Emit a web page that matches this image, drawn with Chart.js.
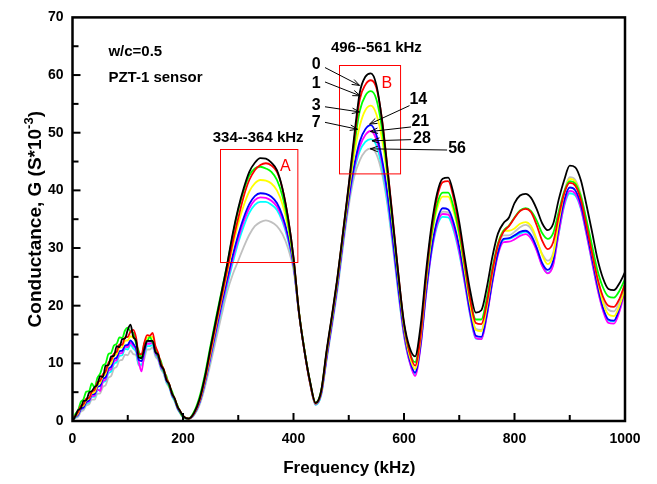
<!DOCTYPE html>
<html><head><meta charset="utf-8">
<script src="https://cdn.jsdelivr.net/npm/chart.js@4.4.1/dist/chart.umd.min.js"></script>
<style>html,body{margin:0;padding:0;background:#fff}#wrap{width:657px;height:484px;position:relative}</style>
</head><body><div id="wrap"><canvas id="c" width="657" height="484"></canvas></div>
<script>
// Frequency (kHz)
const freq = [0,5,10,15,20,25,30,35,40,45,50,55,60,65,70,75,80,85,90,95,100,105,110,115,120,125,130,135,140,145,150,155,160,165,170,175,180,185,190,195,200,
210,220,230,240,250,260,270,280,290,300,310,320,330,340,350,360,370,380,390,400,410,420,430,440,450,
460,470,480,490,500,510,520,530,540,550,560,570,580,590,600,610,620,630,
640,650,660,670,680,690,700,710,720,730,740,750,760,770,780,790,800,810,820,830,840,850,860,870,880,890,900,910,920,930,940,950,960,970,980,990,1000];

// Conductance G (S*10^-3) per series
const g0 = [0,0.8,1.9,2.2,3.5,3.6,4.9,5.2,5.9,6.3,7.8,7.6,9.6,9.7,11.2,11.3,13.0,12.8,14.2,14.3,15.8,16.7,14.6,13.9,11.0,10.9,12.5,13.9,13.9,13.9,12.0,11.5,9.7,8.9,7.1,6.4,4.8,3.9,2.5,1.7,0.9,
0.4,1.4,3.8,7.8,12.8,17.6,22.4,27.2,32.5,36.9,40.4,43.2,44.8,45.6,45.5,44.8,43.5,40.3,35.3,28.4,18.8,12.1,6.8,3.1,5.2,
12.3,18.6,25.3,33,41,49.5,57,59.7,60.3,58.3,52.3,43.8,34.5,25.3,17.1,12.8,11.2,16.5,
26,34,39.5,42,42.2,39.3,34.5,28.3,22.5,18.8,19.2,23.2,28.5,32.5,34.3,35.3,37.8,39.1,39.4,38.7,36.8,34.3,33.1,34.2,38.4,41.8,44.3,44,41.8,37.6,33,28.2,24.8,22.9,22.7,23.9,25.8];
const g1 = [0,0.9,1.5,2.6,2.9,3.9,4.0,5.1,5.4,6.7,7.0,8.1,8.6,10.1,10.6,11.7,12.0,13.3,13.2,14.5,14.6,15.5,15.8,14.5,11.6,11.6,13.6,14.9,14.8,15.3,13.0,11.8,10.0,9.0,7.4,6.4,4.8,3.9,2.5,1.7,0.9,
0.4,1.3,3.6,7.4,12.2,17,21.6,26.2,31,35.2,39,41.8,43.5,44.4,44.7,44.3,43.2,40.3,35.3,28.4,18.8,12.1,6.7,3.1,5.0,
12,18.4,25.1,33,40.7,48.8,55.8,58.3,59.1,57.8,52.5,44,34.8,25.3,16.8,12,9.6,14.8,
25,33.3,38.8,41.4,41.6,38.6,33.6,27.3,21,17,16.8,20.5,26,30.5,32.8,33.8,35.2,36.4,36.8,36.2,34,31.3,29.8,31,35.5,39.5,41.3,40.8,38.4,34,29.3,24.8,21.6,20,19.8,21.2,23.8];
const g3 = [0,1.2,1.8,3.3,3.8,5.1,5.2,6.5,5.8,7.5,8.2,9.6,10.0,11.6,11.8,13.1,13.4,14.5,14.4,15.7,16.2,15.5,15.3,13.5,12.1,10.8,13.5,13.8,14.6,13.6,12.8,11.2,10.4,8.6,7.8,6.0,5.2,3.7,2.7,1.5,0.7,
0.4,1.6,4.2,8.2,13.2,18,22.6,27.2,32.2,36.6,40,42.6,43.8,44.1,43.8,43.2,41.8,39,34.4,28,18.8,12.2,6.8,3.2,5.2,
12,18.3,25,32.8,40.4,47.8,53.8,56.4,57.2,55.8,50.8,43,34,24.8,16.6,12,10.2,15.4,
24.8,32.5,37.6,39.6,39.6,37,32.6,26.8,21,17.6,17.6,21.4,26.6,30.8,33,33.9,35.3,36.5,36.9,36.4,34.8,32.6,31.6,32.6,36.3,39.8,41.6,41.2,39,35,30.6,26.2,23.2,21.6,21.4,22.6,24.6];
const g7 = [0,0.8,1.3,2.4,2.7,3.6,3.9,4.8,5.0,6.2,6.6,7.7,8.2,9.7,10.0,11.3,11.6,12.7,12.8,13.9,14.0,14.7,14.4,13.7,11.2,11.0,13.0,14.5,14.6,14.6,12.6,11.6,9.8,9.0,7.4,6.4,4.8,3.9,2.5,1.7,0.9,
0.4,1.3,3.5,7.2,11.8,16.6,21.2,25.7,30.2,34.2,37.4,39.8,41.2,41.8,41.7,41.2,40,37.6,33.6,27.8,18.8,12.1,6.6,3.0,5.0,
11.7,18,24.6,32.4,39.8,46.3,51.2,53.9,54.7,53.2,49,42,33.5,24.5,16.3,11.3,9.0,14.2,
24,31.8,36.8,38.9,38.9,36.3,32,26,20,15.8,15.6,19.8,25.6,30.6,33,33,33.4,34.2,34.5,33.8,31.6,28.8,27.2,28.8,34.5,39.5,42,41.5,39,34.4,29.4,24.6,20.6,18.5,18.2,20,23];
const g14 = [0,0.7,1.1,2.1,2.4,3.3,3.6,4.6,4.7,5.9,6.1,7.3,7.6,9.1,9.4,10.7,11.0,12.1,12.2,13.1,13.2,14.0,13.4,12.6,10.6,10.4,12.2,13.8,13.8,13.8,12.0,11.2,9.6,8.8,7.2,6.2,4.6,3.7,2.3,1.5,0.8,
0.4,1.2,3.3,6.9,11.4,16,20.4,24.6,28.7,32.3,35.3,37.6,39,39.5,39.4,38.9,37.8,35.6,32.2,27.2,18.6,12,6.6,3.0,4.8,
11.2,17.4,24,31.7,38.7,44.4,48.5,50.6,51.3,49.6,45.5,39.5,31.5,23,15.5,10.7,8.4,13.3,
22.6,30,34.8,36.9,36.7,34.3,30.2,24.6,18.8,14.8,14.6,18.6,24.4,29.2,31.6,31.7,32.2,32.8,33,32.2,30.1,27.4,26.2,27.8,33.5,38.3,40.5,40,37.6,33.2,28.4,23.6,19.7,17.6,17.4,19.6,23.2];
const g21 = [0,0.7,1.0,2.0,2.3,3.2,3.4,4.3,4.4,5.5,5.2,6.9,7.2,8.7,9.0,10.3,10.6,11.7,11.8,12.9,12.8,13.6,13.0,12.4,10.2,8.6,11.8,13.4,13.4,13.6,11.8,11.0,9.4,8.6,7.0,6.2,4.6,3.7,2.3,1.5,0.8,
0.4,1.2,3.2,6.7,11.1,15.6,20,24.1,28.1,31.6,34.6,36.9,38.3,38.8,38.7,38.2,37.2,35.1,31.8,27,18.6,12,6.5,2.9,4.7,
11,17.2,23.8,31.4,38.3,43.9,47.6,49.6,50.3,48.8,45,39,31,22.6,15,10.3,7.8,12.8,
22,29.5,34.2,35.9,35.8,33.5,29.4,24,18.4,14.4,14.2,18.2,24,28.8,31,31.1,31.5,32.1,32.4,31.6,29.6,26.9,25.6,27,32.6,37.6,39.9,39.4,37,32.6,27.8,23,19.2,17,16.9,19,22.6];
const g28 = [0,0.6,0.9,1.9,2.2,3.0,3.2,4.2,4.2,5.3,5.5,6.7,7.0,8.3,8.6,9.9,10.2,11.3,11.4,12.5,12.4,13.2,12.6,12.0,9.8,9.8,11.4,13.0,13.0,13.2,11.6,10.8,9.2,8.4,6.8,6.0,4.4,3.5,2.2,1.4,0.7,
0.4,1.1,3.1,6.5,10.8,15.2,19.5,23.5,27.4,30.9,33.8,36.1,37.5,38,38,37.5,36.6,34.6,31.4,26.8,18.8,12.2,6.6,2.8,4.5,
10.8,17,23.5,31.1,38,43.4,46.8,48.4,48.9,47.8,44,38,30.5,22.2,14.8,10.3,8.1,13,
22,29.3,33.8,35.4,35.3,33,29,23.8,18.2,14.3,14.2,18.4,24.2,29,31.4,31.6,32,32.5,32.8,32,29.8,27,25.7,27.2,32.5,37.3,39.5,39.1,36.8,32.5,27.7,23.1,19.4,17.4,17.3,19.5,23];
const g56 = [0,0.5,0.7,1.6,1.9,2.7,2.9,3.7,3.7,4.7,4.8,5.9,6.2,7.5,7.8,9.1,9.4,10.5,10.6,11.5,11.4,12.2,11.6,11.4,9.6,9.6,10.8,12.4,12.4,12.8,11.2,10.6,9.0,8.2,6.6,5.8,4.3,3.4,2.1,1.3,0.6,
0.4,1.0,2.8,6.0,10,14.2,18.4,22.4,25.4,27.8,30.2,32.3,33.8,34.5,34.8,34.5,33.8,32.4,30,26.2,18.6,12.2,6.6,2.8,4.4,
10.6,16.6,23,30.5,37.3,42.4,45.2,46.8,47.3,46.3,43,37.5,30,22,15,10.8,9.0,13.8,
22.8,30,34.4,36.3,36.2,33.8,29.8,24.5,19,16,15.8,19.8,25.4,30,32.2,32.2,32.8,33.6,34,33.3,31.2,29,27.8,29.2,34.8,39.8,42.3,41.8,39.3,34.8,29.8,25,21.2,19.3,19,20.8,23.8];

const seriesLabels = ['0','1','3','7','14','21','28','56'];
const seriesValues = [g0,g1,g3,g7,g14,g21,g28,g56];
const seriesColors = ['#000000','#ff0000','#00ff00','#ffff00','#0000ff','#ff00ff','#00ffff','#c0c0c0'];
const xTickValues = [0,200,400,600,800,1000];
const yTickValues = [0,10,20,30,40,50,60,70];

const FONT = '"Liberation Sans", Arial, sans-serif';

// annotation definitions (data coordinates)
const boxes = [
  {f0:267, f1:407, g0:27.6, g1:47.2, tag:'A', tagAt:[385,44.2]},
  {f0:481.5, f1:592, g0:42.9, g1:61.7, tag:'B', tagAt:[569,58.6]}
];
const boxTitles = [
  {text:'334--364 kHz', at:[336,49.1]},
  {text:'496--561 kHz', at:[550,64.8]}
];
const leftArrows = [
  {text:'0', label:[441,61.9], from:[457,61.3], to:[519.6,58.2]},
  {text:'1', label:[441,58.6], from:[457,58.8], to:[520.8,56.4]},
  {text:'3', label:[441,54.7], from:[457,54.5], to:[519.6,53.6]},
  {text:'7', label:[441,51.7], from:[457,51.8], to:[516,50.6]}
];
const rightArrows = [
  {text:'14', label:[626,55.7], from:[610,54.7], to:[537.7,51.5]},
  {text:'21', label:[629.5,52.0], from:[612.7,51.0], to:[539,50.2]},
  {text:'28', label:[632.6,49.0], from:[612.7,48.8], to:[542,48.6]},
  {text:'56', label:[696,47.2], from:[678,47.0], to:[539,47.2]}
];
const notes = [
  {text:'w/c=0.5', at:[65,64.1]},
  {text:'PZT-1 sensor', at:[65,59.5]}
];

const decor = {
  id:'decor',
  afterDraw(chart){
    const {ctx, chartArea:a, scales:{x,y}} = chart;
    const X = v => x.getPixelForValue(v), Y = v => y.getPixelForValue(v);
    ctx.save();
    // inward ticks
    ctx.strokeStyle = '#000'; ctx.lineWidth = 2;
    for (let v = 100; v < 1000; v += 100){
      const len = v % 200 === 0 ? 8 : 6;
      ctx.beginPath(); ctx.moveTo(X(v), a.bottom); ctx.lineTo(X(v), a.bottom - len); ctx.stroke();
    }
    for (let v = 5; v < 70; v += 5){
      const len = v % 10 === 0 ? 8 : 6;
      ctx.beginPath(); ctx.moveTo(a.left, Y(v)); ctx.lineTo(a.left + len, Y(v)); ctx.stroke();
    }
    // frame
    ctx.lineWidth = 2.5;
    ctx.strokeRect(a.left, a.top, a.right - a.left, a.bottom - a.top);

    // red boxes
    ctx.strokeStyle = '#ff0000'; ctx.lineWidth = 1;
    ctx.fillStyle = '#ff0000';
    ctx.font = '16px ' + FONT; ctx.textAlign = 'center'; ctx.textBaseline = 'middle';
    boxes.forEach(b => {
      ctx.strokeRect(Math.round(X(b.f0))+0.5, Math.round(Y(b.g1))+0.5, X(b.f1)-X(b.f0), Y(b.g0)-Y(b.g1));
      ctx.fillText(b.tag, X(b.tagAt[0]), Y(b.tagAt[1]));
    });

    // text
    ctx.fillStyle = '#000';
    ctx.font = 'bold 15px ' + FONT;
    boxTitles.forEach(t => ctx.fillText(t.text, X(t.at[0]), Y(t.at[1])));
    ctx.textAlign = 'left';
    notes.forEach(t => ctx.fillText(t.text, X(t.at[0]), Y(t.at[1])));

    // arrows
    const arrow = (p, q) => {
      const x1 = X(p[0]), y1 = Y(p[1]), x2 = X(q[0]), y2 = Y(q[1]);
      ctx.strokeStyle = '#000'; ctx.lineWidth = 1;
      ctx.beginPath(); ctx.moveTo(x1, y1); ctx.lineTo(x2, y2); ctx.stroke();
      const ang = Math.atan2(y2 - y1, x2 - x1), h = 8, w = 0.35;
      ctx.beginPath();
      ctx.moveTo(x2 - h*Math.cos(ang - w), y2 - h*Math.sin(ang - w));
      ctx.lineTo(x2, y2);
      ctx.lineTo(x2 - h*Math.cos(ang + w), y2 - h*Math.sin(ang + w));
      ctx.stroke();
    };
    ctx.font = 'bold 16px ' + FONT; ctx.textAlign = 'center';
    leftArrows.concat(rightArrows).forEach(r => {
      ctx.fillText(r.text, X(r.label[0]), Y(r.label[1]));
      arrow(r.from, r.to);
    });

    // axis titles
    ctx.font = 'bold 17px ' + FONT; ctx.textAlign = 'center'; ctx.textBaseline = 'alphabetic';
    ctx.fillText('Frequency (kHz)', (a.left + a.right) / 2 + 0.5, 473);

    ctx.save();
    ctx.translate(40.5, (a.top + a.bottom) / 2);
    ctx.rotate(-Math.PI / 2);
    const main = 'Conductance, G (S*10', sup = '-3', tail = ')';
    const fMain = 'bold 19px ' + FONT, fSup = 'bold 13px ' + FONT;
    ctx.font = fMain; const w1 = ctx.measureText(main).width, w3 = ctx.measureText(tail).width;
    ctx.font = fSup; const w2 = ctx.measureText(sup).width;
    let sx = -(w1 + w2 + w3) / 2;
    ctx.textAlign = 'left';
    ctx.font = fMain; ctx.fillText(main, sx, 0); sx += w1;
    ctx.font = fSup; ctx.fillText(sup, sx, -8); sx += w2;
    ctx.font = fMain; ctx.fillText(tail, sx, 0);
    ctx.restore();

    ctx.restore();
  }
};

const datasets = seriesValues.map((vals, i) => ({
  label: seriesLabels[i],
  data: freq.map((f, j) => ({x: f, y: vals[j]})),
  borderColor: seriesColors[i],
  backgroundColor: seriesColors[i],
  borderWidth: 1.8,
  pointRadius: 0,
  fill: false,
  cubicInterpolationMode: 'monotone'
}));

new Chart(document.getElementById('c'), {
  type: 'line',
  data: {datasets},
  options: {
    responsive: false,
    animation: false,
    devicePixelRatio: 1,
    layout: {padding: {left: 0, right: 32, top: 15, bottom: 0}},
    plugins: {legend: {display: false}, tooltip: {enabled: false}},
    scales: {
      x: {
        type: 'linear', min: 0, max: 1000,
        afterBuildTicks: s => { s.ticks = xTickValues.map(v => ({value: v})); },
        afterFit: s => { s.height = 63; },
        grid: {display: false, drawTicks: false},
        border: {display: false},
        ticks: {color: '#000', padding: 10, font: {family: FONT, size: 14, weight: 'bold'}, maxRotation: 0, callback: v => String(v)}
      },
      y: {
        type: 'linear', min: 0, max: 70,
        afterBuildTicks: s => { s.ticks = yTickValues.map(v => ({value: v})); },
        afterFit: s => { s.width = 72.5; },
        grid: {display: false, drawTicks: false},
        border: {display: false},
        ticks: {color: '#000', padding: 9, font: {family: FONT, size: 14, weight: 'bold'}, callback: v => String(v)}
      }
    }
  },
  plugins: [decor]
});
</script>
</body></html>
